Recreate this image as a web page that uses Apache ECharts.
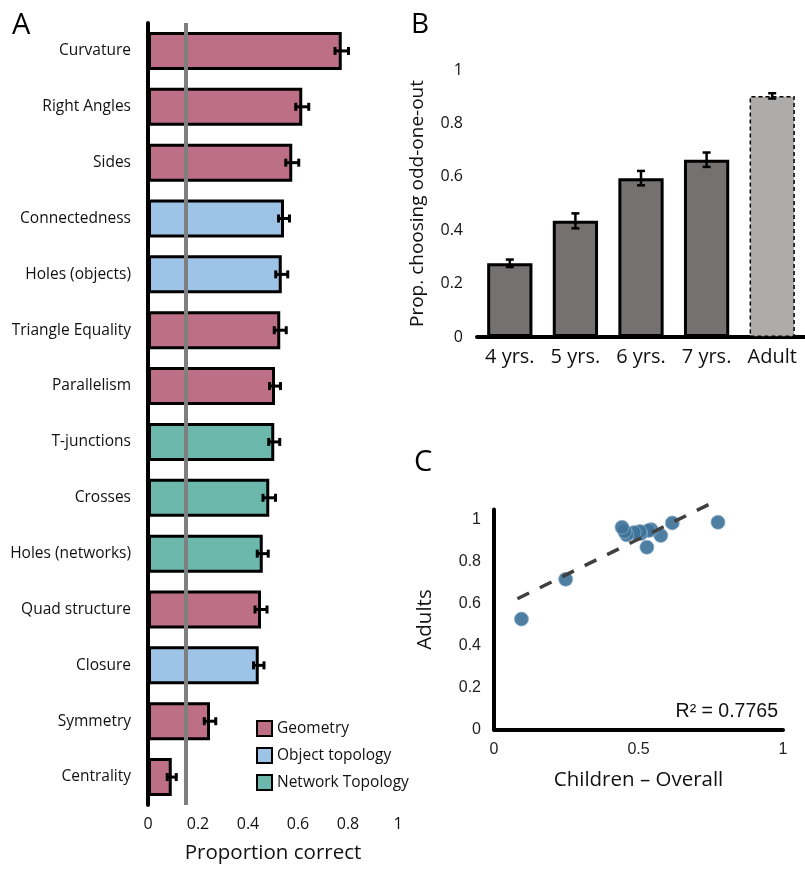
<!DOCTYPE html>
<html>
<head>
<meta charset="utf-8">
<script src="https://cdn.jsdelivr.net/npm/echarts@6/dist/echarts.min.js"></script>
<style>
	html, body { margin: 0; padding: 0; background: #fff; }
	#main { width: 805px; height: 869px; }
</style>
</head>
<body>
<div id="main"></div>
<script>
( function() {
	'use strict';
	// panel A
	var featureNames = [ 'Curvature', 'Right Angles', 'Sides', 'Connectedness', 'Holes (objects)', 'Triangle Equality', 'Parallelism',
		'T-junctions', 'Crosses', 'Holes (networks)', 'Quad structure', 'Closure', 'Symmetry', 'Centrality' ];
	var featureGroup = [ 'G', 'G', 'G', 'O', 'O', 'G', 'G', 'N', 'N', 'N', 'G', 'O', 'G', 'G' ];
	var childCorrect = [ 0.775, 0.617, 0.577, 0.544, 0.535, 0.529, 0.508, 0.505, 0.485, 0.459, 0.452, 0.443, 0.248, 0.095 ];
	var childErr = [ 0.027, 0.026, 0.026, 0.022, 0.024, 0.024, 0.022, 0.022, 0.025, 0.022, 0.024, 0.021, 0.023, 0.018 ];
	var chanceLevel = 0.15;
	var axisATicks = [ 0, 0.2, 0.4, 0.6, 0.8, 1 ];

	// panel B
	var ageGroups = [ '4 yrs.', '5 yrs.', '6 yrs.', '7 yrs.', 'Adult' ];
	var oddOneOut = [ 0.276, 0.435, 0.595, 0.664, 0.903 ];
	var oddErr = [ 0.014, 0.028, 0.027, 0.027, 0.010 ];

	// panel C
	var adultCorrect = [ 0.989, 0.986, 0.926, 0.954, 0.950, 0.870, 0.935, 0.945, 0.940, 0.929, 0.945, 0.965, 0.717, 0.527 ];
	var trendX = [ 0.081, 0.770 ];
	var trendY = [ 0.624, 1.092 ];
	var rSquared = 'R² = 0.7765';

	var groupNames = { G: 'Geometry', O: 'Object topology', N: 'Network Topology' };
	var groupColors = { G: '#BC6F87', O: '#9DC3E6', N: '#6CB8AD' };
	var FONT = '"Open Sans", "Noto Sans", sans-serif';
	var ARIAL = '"Liberation Sans", Arial, sans-serif';

	var chart = echarts.init( document.getElementById( 'main' ) );

	var barSeries = [];
	[ 'G', 'O', 'N' ].forEach( function( g ) {
		var d = [];
		for ( var i = 0; i < childCorrect.length; i++ ) {
			d.push( featureGroup[ i ] == g ? childCorrect[ i ] : '-' );
		}
		barSeries.push( {
			name: groupNames[ g ],
			type: 'bar',
			xAxisIndex: 0,
			yAxisIndex: 0,
			barGap: '-100%',
			barCategoryGap: '32%',
			z: 3,
			itemStyle: {
				color: groupColors[ g ],
				borderColor: '#000',
				borderWidth: 3
			},
			data: d
		} );
	} );

	var errA = [];
	for ( var i = 0; i < childCorrect.length; i++ ) {
		errA.push( [ i, childCorrect[ i ] - childErr[ i ], childCorrect[ i ] + childErr[ i ] ] );
	}
	var errB = [];
	for ( var j = 0; j < oddOneOut.length; j++ ) {
		errB.push( [ j, oddOneOut[ j ] - oddErr[ j ], oddOneOut[ j ] + oddErr[ j ] ] );
	}
	var scatterData = [];
	for ( var k = 0; k < childCorrect.length; k++ ) {
		scatterData.push( [ childCorrect[ k ], adultCorrect[ k ] ] );
	}

	var option = {
		animation: false,
		textStyle: { fontFamily: FONT },
		grid: [
			{ left: 148, top: 23, width: 250, height: 784 },
			{ left: 477, top: 70, width: 328, height: 267 },
			{ left: 494, top: 509.5, width: 289, height: 220 }
		],
		legend: {
			data: [ 'Geometry', 'Object topology', 'Network Topology' ],
			orient: 'vertical',
			left: 251,
			top: 715,
			itemWidth: 15,
			itemHeight: 15,
			itemGap: 10,
			icon: 'rect',
			itemStyle: { borderWidth: 2 },
			textStyle: { fontFamily: FONT, fontSize: 15.5, color: '#111' }
		},
		xAxis: [ {
				gridIndex: 0,
				type: 'value',
				min: 0,
				max: 1,
				interval: 0.2,
				name: 'Proportion correct',
				nameLocation: 'middle',
				nameGap: 38,
				nameTextStyle: { fontSize: 20.5, color: '#111' },
				axisLine: { show: false },
				axisTick: { show: false },
				splitLine: { show: false },
				axisLabel: {
					margin: 11,
					fontSize: 16,
					color: '#111',
					formatter: function( v ) {
						return axisATicks.indexOf( +v.toFixed( 1 ) ) >= 0 ? String( +v.toFixed( 1 ) ) : '';
					}
				}
			},
			{
				gridIndex: 1,
				type: 'category',
				data: ageGroups,
				axisLine: { lineStyle: { color: '#000', width: 4 } },
				axisTick: { show: false },
				axisLabel: { margin: 10, fontSize: 20, color: '#111' }
			},
			{
				gridIndex: 2,
				type: 'value',
				min: 0,
				max: 1,
				interval: 0.5,
				name: 'Children – Overall',
				nameLocation: 'middle',
				nameGap: 40,
				nameTextStyle: { fontSize: 20.5, color: '#111' },
				axisLine: { show: true, onZero: false, lineStyle: { color: '#000', width: 4 } },
				axisTick: { show: false },
				splitLine: { show: false },
				axisLabel: { margin: 12, fontSize: 16, color: '#222', fontFamily: ARIAL }
			}
		],
		yAxis: [ {
				gridIndex: 0,
				type: 'category',
				inverse: true,
				data: featureNames,
				axisLine: { lineStyle: { color: '#000', width: 4 } },
				axisTick: { show: false },
				axisLabel: { margin: 17, fontSize: 15.5, color: '#111' }
			},
			{
				gridIndex: 1,
				type: 'value',
				min: 0,
				max: 1,
				interval: 0.2,
				name: 'Prop. choosing odd-one-out',
				nameLocation: 'middle',
				nameGap: 50,
				nameTextStyle: { fontSize: 19, color: '#111' },
				axisLine: { show: false },
				axisTick: { show: false },
				splitLine: { show: false },
				axisLabel: { margin: 14, fontSize: 16, color: '#111' }
			},
			{
				gridIndex: 2,
				type: 'value',
				min: 0,
				max: 1.05,
				interval: 0.2,
				name: 'Adults',
				nameLocation: 'middle',
				nameGap: 58,
				nameTextStyle: { fontSize: 20.5, color: '#111' },
				axisLine: { show: true, onZero: false, lineStyle: { color: '#000', width: 4 } },
				axisTick: { show: false },
				splitLine: { show: false },
				axisLabel: {
					margin: 13,
					fontSize: 16,
					color: '#222',
					fontFamily: ARIAL,
					formatter: function( v ) {
						return v > 1.001 ? '' : String( +v.toFixed( 1 ) );
					}
				}
			}
		],
		series: barSeries.concat( [ {
				// chance line, drawn behind the bars
				type: 'line',
				xAxisIndex: 0,
				yAxisIndex: 0,
				z: 1,
				data: [],
				markLine: {
					silent: true,
					symbol: 'none',
					label: { show: false },
					lineStyle: { color: '#7F7F7F', width: 4, type: 'solid' },
					data: [ { xAxis: chanceLevel } ]
				}
			},
			{
				type: 'custom',
				xAxisIndex: 0,
				yAxisIndex: 0,
				z: 5,
				data: errA,
				renderItem: function( params, api ) {
					var c = api.value( 0 );
					var lo = api.coord( [ api.value( 1 ), c ] );
					var hi = api.coord( [ api.value( 2 ), c ] );
					var h = 4;
					var st = { stroke: '#000', lineWidth: 3 };
					return {
						type: 'group',
						children: [
							{ type: 'line', shape: { x1: lo[ 0 ], y1: lo[ 1 ], x2: hi[ 0 ], y2: hi[ 1 ] }, style: st },
							{ type: 'line', shape: { x1: lo[ 0 ], y1: lo[ 1 ] - h, x2: lo[ 0 ], y2: lo[ 1 ] + h }, style: st },
							{ type: 'line', shape: { x1: hi[ 0 ], y1: hi[ 1 ] - h, x2: hi[ 0 ], y2: hi[ 1 ] + h }, style: st }
						]
					};
				}
			},
			{
				type: 'bar',
				xAxisIndex: 1,
				yAxisIndex: 1,
				barCategoryGap: '31%',
				z: 3,
				data: oddOneOut.map( function( v, idx ) {
					var adult = ageGroups[ idx ] == 'Adult';
					return {
						value: v,
						itemStyle: adult ? {
							color: '#AEABAB',
							borderColor: '#000',
							borderWidth: 1.5,
							borderType: [ 4, 3 ]
						} : {
							color: '#767171',
							borderColor: '#000',
							borderWidth: 3
						}
					};
				} )
			},
			{
				type: 'custom',
				xAxisIndex: 1,
				yAxisIndex: 1,
				z: 5,
				data: errB,
				renderItem: function( params, api ) {
					var c = api.value( 0 );
					var lo = api.coord( [ c, api.value( 1 ) ] );
					var hi = api.coord( [ c, api.value( 2 ) ] );
					var w = 4;
					var st = { stroke: '#000', lineWidth: 2.5 };
					return {
						type: 'group',
						children: [
							{ type: 'line', shape: { x1: lo[ 0 ], y1: lo[ 1 ], x2: hi[ 0 ], y2: hi[ 1 ] }, style: st },
							{ type: 'line', shape: { x1: lo[ 0 ] - w, y1: lo[ 1 ], x2: lo[ 0 ] + w, y2: lo[ 1 ] }, style: st },
							{ type: 'line', shape: { x1: hi[ 0 ] - w, y1: hi[ 1 ], x2: hi[ 0 ] + w, y2: hi[ 1 ] }, style: st }
						]
					};
				}
			},
			{
				type: 'line',
				xAxisIndex: 2,
				yAxisIndex: 2,
				clip: false,
				symbol: 'none',
				z: 4,
				lineStyle: { color: '#404040', width: 3.5, type: [ 13, 12 ] },
				data: trendX.map( function( x, idx ) { return [ x, trendY[ idx ] ]; } )
			},
			{
				type: 'scatter',
				xAxisIndex: 2,
				yAxisIndex: 2,
				symbolSize: 14,
				z: 3,
				itemStyle: {
					color: '#3F7399',
					opacity: 0.92,
					borderColor: '#8DB0CB',
					borderWidth: 0.8
				},
				data: scatterData
			}
		] ),
		graphic: [
			{ type: 'text', left: 12, top: 11, style: { text: 'A', fontSize: 29, fontFamily: FONT, fill: '#000' } },
			{ type: 'text', left: 411, top: 11, style: { text: 'B', fontSize: 28, fontFamily: FONT, fill: '#000' } },
			{ type: 'text', left: 414, top: 448, style: { text: 'C', fontSize: 29, fontFamily: FONT, fill: '#000' } },
			{ type: 'text', right: 27, top: 702, style: { text: rSquared, fontSize: 19.5, fontFamily: ARIAL, fill: '#111' } }
		]
	};
	chart.setOption( option );
} )();
</script>
</body>
</html>
